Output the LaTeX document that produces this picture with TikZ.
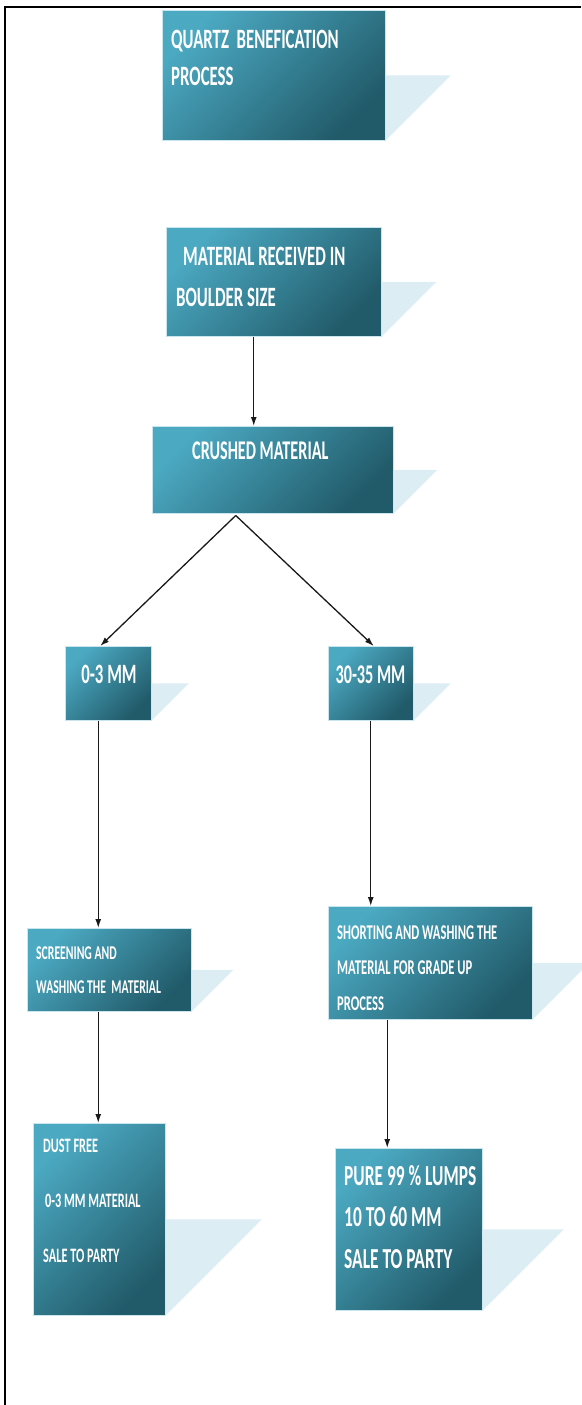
\documentclass[tikz,border=0pt]{standalone}
\usepackage{fontspec}
\newfontfamily\boxfont{Carlito}[FakeStretch=0.6]
\usepackage{tikz}
\usetikzlibrary{calc}
\usetikzlibrary{arrows.meta}
\definecolor{boxlight}{HTML}{4BA9C2}
\definecolor{boxdark}{HTML}{215A69}
\definecolor{tailblue}{HTML}{DCEEF4}

\begin{document}
\begin{tikzpicture}[x=1pt, y=-1pt, >={Latex[length=9pt, width=6pt]},
    block/.style={
            draw=white!70!boxlight,
            line width=0.5pt,
            rectangle,
            anchor=north west,
            top color=boxlight,
            bottom color=boxdark,
            shading angle=45
        },
        tail/.style={fill=tailblue},
        txt/.style={
            text=white,
            align=left,
            inner sep=0pt,
            anchor=base west
        },
        line/.style={->, draw=black!90, line width=1.3pt}
]
    \useasboundingbox (0,0) rectangle (581,1405);

    % boxes
    \node [block, minimum width=223pt, minimum height=130pt] (title) at (162,10) {};
    \node [block, minimum width=215pt, minimum height=109pt] (boulder) at (166,227) {};
    \node [block, minimum width=241pt, minimum height=87pt] (crushed) at (152,426) {};
    \node [block, minimum width=86pt, minimum height=74pt] (fine) at (65,646) {};
    \node [block, minimum width=85pt, minimum height=74pt] (coarse) at (328,646) {};
    \node [block, minimum width=164pt, minimum height=83pt] (screen) at (27,928) {};
    \node [block, minimum width=204pt, minimum height=113pt] (sort) at (328,906) {};
    \node [block, minimum width=132pt, minimum height=192pt] (dust) at (33,1123) {};
    \node [block, minimum width=147pt, minimum height=162pt] (pure) at (335,1148) {};

    % light tails
    \foreach \b in {title,boulder,crushed,fine,coarse,screen,sort,dust,pure}
        \fill [tail] let \p1=(\b.north east), \p2=(\b.south east) in
            (\b.east) -- ++({(\y1-\y2)/2},0) -- (\b.south east) -- cycle;

    % texts (anchored at the baseline of the last line)
    \node [txt, font=\boxfont\bfseries\fontsize{28}{37}\selectfont] (titletxt) at (171,85)
        {QUARTZ\ \ BENEFICATION\\PROCESS};
    \node [txt, font=\boxfont\bfseries\fontsize{28}{41}\selectfont] (bouldertxt) at (176,306)
        {\hspace*{7pt}MATERIAL RECEIVED IN\\BOULDER SIZE};
    \node [txt, font=\boxfont\bfseries\fontsize{27}{36}\selectfont] (crushedtxt) at (192,459)
        {CRUSHED MATERIAL};
    \node [txt, anchor=base, font=\boxfont\bfseries\fontsize{28}{36}\selectfont] (finetxt) at (109,683)
        {0-3 MM};
    \node [txt, anchor=base, font=\boxfont\bfseries\fontsize{27}{36}\selectfont] (coarsetxt) at (370.5,683)
        {30-35 MM};
    \node [txt, font=\boxfont\bfseries\fontsize{19.5}{34}\selectfont] (screentxt) at (36,993)
        {SCREENING AND\\WASHING THE\ \ MATERIAL};
    \node [txt, font=\boxfont\bfseries\fontsize{21}{35.5}\selectfont] (sorttxt) at (337,1010)
        {SHORTING AND WASHING THE\\MATERIAL FOR GRADE UP\\PROCESS};
    \node [txt, font=\boxfont\bfseries\fontsize{20.5}{55}\selectfont] (dusttxt) at (43,1262)
        {DUST FREE\\\hspace*{2pt}0-3 MM MATERIAL\\SALE TO PARTY};
    \node [txt, font=\boxfont\bfseries\fontsize{29}{41.5}\selectfont] (puretxt) at (344,1268)
        {PURE 99 \% LUMPS\\10 TO 60 MM\\SALE TO PARTY};

    % connectors
    \coordinate (split) at ([xshift=-37pt, yshift=-2pt]crushed.south);
    \draw [line] ([xshift=-20pt]boulder.south) -- ([xshift=-20pt]boulder.south |- crushed.north);
    \draw [line] (split) -- ([xshift=-8pt]fine.north);
    \draw [line] (split) -- ([xshift=3pt]coarse.north);
    \draw [line] ([xshift=-10pt]fine.south) -- ([xshift=-10pt]fine.south |- screen.north);
    \draw [line] (coarse.south) -- (coarse.south |- sort.north);
    \draw [line] ([xshift=-10pt]screen.south -| fine.south) -- ([xshift=-10pt]fine.south |- dust.north);
    \draw [line] ([xshift=-43pt]sort.south) -- ([xshift=-43pt]sort.south |- pure.north);

    % frame
    \draw [line width=1.6pt] (581,7) -- (5,7) -- (5,1405);
\end{tikzpicture}
\end{document}
